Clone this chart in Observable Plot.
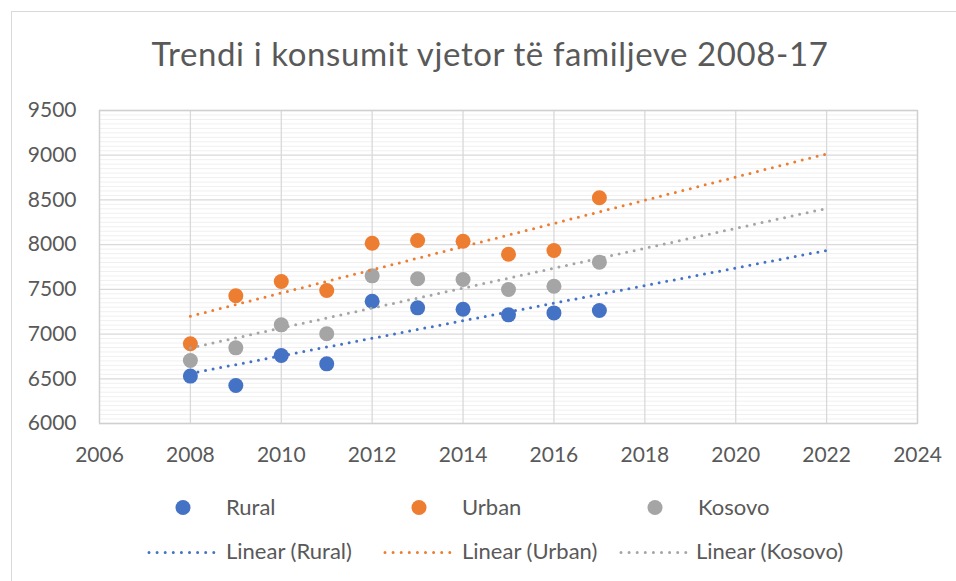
<!DOCTYPE html>
<html>
<head>
<meta charset="utf-8">
<script src="https://cdn.jsdelivr.net/npm/d3@7"></script>
<script src="https://cdn.jsdelivr.net/npm/@observablehq/plot@0.6"></script>
<style>
  html, body { margin: 0; padding: 0; background: #fff; }
  body { width: 956px; height: 581px; position: relative; overflow: hidden; font-family: Lato, sans-serif; color: #595959; }
  #border { position: absolute; left: 11px; top: 11px; width: 1000px; height: 700px; border-left: 1px solid #d9d9d9; border-top: 1px solid #d9d9d9; }
  #title { position: absolute; left: 0; top: 34px; width: 980px; text-align: center; font-size: 33px; letter-spacing: 0.6px; line-height: 1.2; white-space: nowrap; }
  #chart { position: absolute; left: 0; top: 0; }
  #legend { position: absolute; left: 0; top: 0; }
</style>
</head>
<body>
<div id="border"></div>
<div id="title">Trendi i konsumit vjetor të familjeve 2008-17</div>
<div id="chart"></div>
<svg id="legend" width="956" height="581"></svg>
<script>
// ---- data ----
const years = [2008, 2009, 2010, 2011, 2012, 2013, 2014, 2015, 2016, 2017];
const rural = [6530, 6425, 6760, 6667, 7367, 7293, 7278, 7215, 7237, 7263];
const urban = [6891, 7428, 7588, 7487, 8016, 8046, 8038, 7893, 7934, 8524];
const kosovo = [6704, 6846, 7103, 7003, 7651, 7618, 7610, 7498, 7535, 7804];

const seriesNames = ["Rural", "Urban", "Kosovo"];
const seriesColors = ["#4472C4", "#ED7D31", "#A5A5A5"];
const trendNames = ["Linear (Rural)", "Linear (Urban)", "Linear (Kosovo)"];

// linear trendline end points (as drawn, extended to 2022)
const trendYears = [2008, 2022];
const ruralTrend = [6560, 7935];
const urbanTrend = [7200, 9015];
const kosovoTrend = [6845, 8405];

const xTicks = [2006, 2008, 2010, 2012, 2014, 2016, 2018, 2020, 2022, 2024];
const yTicks = [6000, 6500, 7000, 7500, 8000, 8500, 9000, 9500];
const yMinor = d3.range(6050, 9500, 50).filter(v => v % 500 !== 0);

// ---- build tables ----
const seriesValues = [rural, urban, kosovo];
const trendValues = [ruralTrend, urbanTrend, kosovoTrend];
const points = [];
seriesNames.forEach((s, i) => years.forEach((yr, j) => points.push({series: s, year: yr, value: seriesValues[i][j]})));
const trends = [];
seriesNames.forEach((s, i) => trendYears.forEach((yr, j) => trends.push({series: s, year: yr, value: trendValues[i][j]})));

const chart = Plot.plot({
  width: 956,
  height: 581,
  marginLeft: 99,
  marginRight: 39,
  marginTop: 110,
  marginBottom: 158,
  style: {fontFamily: "Lato, sans-serif", fontSize: "21px", color: "#595959", background: "transparent", overflow: "visible"},
  x: {domain: [2006, 2024]},
  y: {domain: [6000, 9500]},
  color: {domain: seriesNames, range: seriesColors},
  marks: [
    Plot.ruleY(yMinor, {stroke: "#f0f0f0", strokeWidth: 1}),
    Plot.ruleY(yTicks, {stroke: "#d9d9d9", strokeWidth: 1.3}),
    Plot.ruleX(xTicks, {stroke: "#d9d9d9", strokeWidth: 1.3}),
    Plot.frame({stroke: "#d0d0d0", strokeWidth: 1.3}),
    Plot.axisY(yTicks, {tickSize: 0, tickPadding: 23, tickFormat: d => String(d), label: null, fill: "#595959"}),
    Plot.axisX(xTicks, {tickSize: 0, tickPadding: 24, tickFormat: d => String(d), label: null, fill: "#595959"}),
    Plot.dot(points, {x: "year", y: "value", fill: "series", r: 7.5}),
    Plot.line(trends, {x: "year", y: "value", z: "series", stroke: "series", strokeWidth: 3, strokeDasharray: "0 7.7", strokeLinecap: "round"})
  ]
});
document.getElementById("chart").appendChild(chart);

// ---- legend ----
const leg = d3.select("#legend");
const colStep = 236;
seriesNames.forEach((s, i) => {
  const x0 = 183 + i * colStep;
  leg.append("circle").attr("cx", x0).attr("cy", 507.5).attr("r", 7.5).attr("fill", seriesColors[i]);
  leg.append("text").attr("x", 226 + i * colStep).attr("y", 515).attr("fill", "#595959")
    .attr("font-family", "Lato, sans-serif").attr("font-size", 22).text(s);
  leg.append("line").attr("x1", 149 + i * colStep).attr("x2", 214 + i * colStep).attr("y1", 552.5).attr("y2", 552.5)
    .attr("stroke", seriesColors[i]).attr("stroke-width", 3).attr("stroke-dasharray", "0 8.1").attr("stroke-linecap", "round");
  leg.append("text").attr("x", 226 + i * colStep - (i === 2 ? 2 : 0)).attr("y", 559).attr("fill", "#595959")
    .attr("font-family", "Lato, sans-serif").attr("font-size", 22).text(trendNames[i]);
});
</script>
</body>
</html>
